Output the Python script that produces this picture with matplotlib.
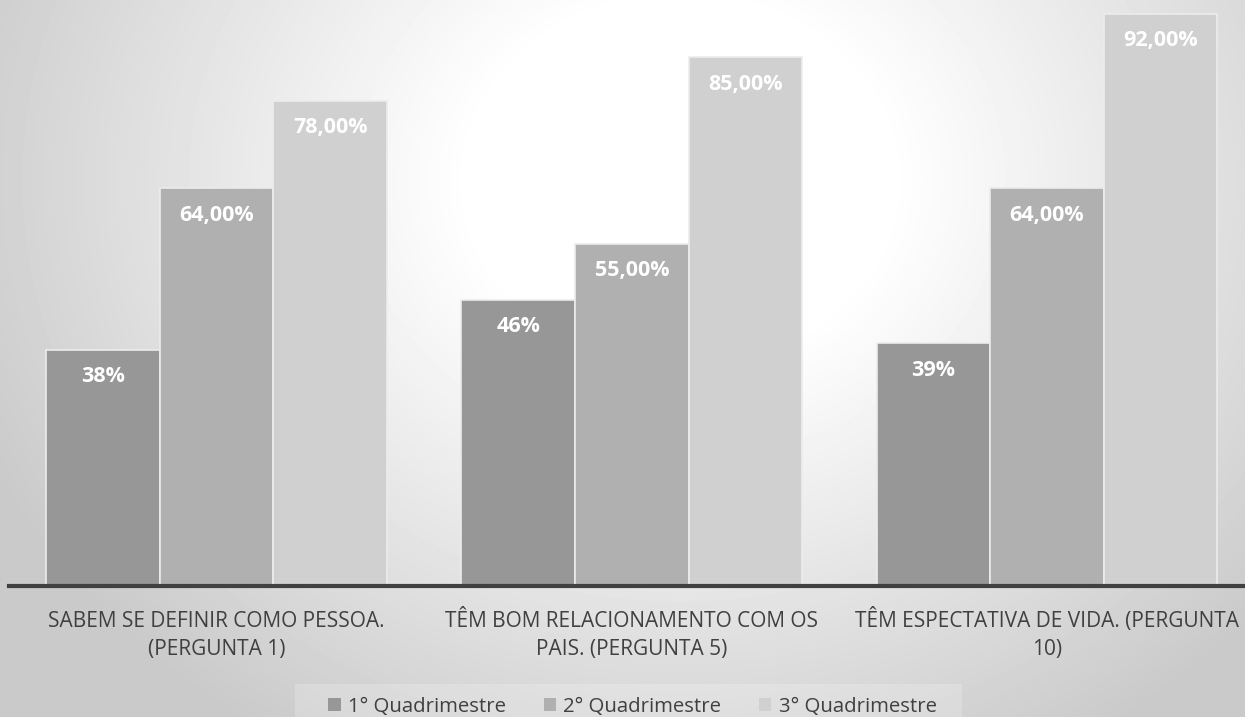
import numpy as np
import matplotlib.pyplot as plt
import matplotlib.transforms as mtransforms
from matplotlib.patches import Patch, Rectangle

categories = ["SABEM SE DEFINIR COMO PESSOA.\n(PERGUNTA 1)",
              "TÊM BOM RELACIONAMENTO COM OS\nPAIS. (PERGUNTA 5)",
              "TÊM ESPECTATIVA DE VIDA. (PERGUNTA\n10)"]
series = ["1° Quadrimestre", "2° Quadrimestre", "3° Quadrimestre"]
q1 = [38, 46, 39]
q2 = [64, 55, 64]
q3 = [78, 85, 92]
q1_labels = ["38%", "46%", "39%"]
q2_labels = ["64,00%", "55,00%", "64,00%"]
q3_labels = ["78,00%", "85,00%", "92,00%"]

colors = ["#979797", "#b0b0b0", "#d0d0d0"]
font = "Open Sans"
W, H = 1245.0, 717.0

fig = plt.figure(figsize=(12.45, 7.17), dpi=100)

# radial-ish gradient background
bg = fig.add_axes([0, 0, 1, 1], zorder=0)
yy, xx = np.mgrid[0:717, 0:1245]
r = np.sqrt(((xx - 680) / 700.0) ** 2 + ((yy - 180) / 600.0) ** 2)
v = 1.0 - 0.21 * np.clip((r - 0.3) / 0.8, 0, 1)
bg.imshow(v, cmap="gray", vmin=0, vmax=1, aspect="auto", extent=[0, 1, 0, 1])
bg.set_xlim(0, 1)
bg.set_ylim(0, 1)
# faint legend band
bg.add_patch(Rectangle((295 / W, 0), (962 - 295) / W, 33 / H,
                       facecolor="white", alpha=0.2, edgecolor="none"))
bg.axis("off")

ax = fig.add_axes([9 / W, 131 / H, 1 - 9 / W, 586 / H], zorder=1)
ax.patch.set_alpha(0)

x = np.arange(len(categories))
w = 0.2735
for i, (vals, labs) in enumerate([(q1, q1_labels), (q2, q2_labels), (q3, q3_labels)]):
    pos = x + (i - 1) * w
    ax.bar(pos, vals, w, color=colors[i], edgecolor="#ececec", linewidth=1.2,
           label=series[i], zorder=2)
    for px, val, lab in zip(pos, vals, labs):
        ax.annotate(lab, (px, val), xytext=(0, -19.5), textcoords="offset points",
                    ha="center", va="center", color="white", fontsize=15.5,
                    fontweight="bold", family=font, zorder=3)

ax.set_xlim(-0.5, 2.5 - 9.5 / 415)
ax.set_ylim(0, 586 / 6.22)
ax.set_yticks([])
ax.set_xticks([])
for s in ["top", "right", "left"]:
    ax.spines[s].set_visible(False)
ax.spines["bottom"].set_color("#404040")
ax.spines["bottom"].set_linewidth(3)
ax.spines["bottom"].set_zorder(4)

# category labels, one text per line at fixed baselines
trans = mtransforms.blended_transform_factory(ax.transData, fig.transFigure)
baselines = [627, 655]
for xi, cat in zip(x, categories):
    for line, b in zip(cat.split("\n"), baselines):
        ax.text(xi, (H - b) / H, line, transform=trans, ha="center",
                va="baseline", fontsize=15, color="#404040", family=font,
                clip_on=False)

handles = [Patch(facecolor=c, edgecolor="none") for c in colors]
leg = fig.legend(handles, series, loc="center", bbox_to_anchor=(632.5 / W, 10 / H),
                 ncol=3, frameon=False, handlelength=0.6,
                 handleheight=0.6, handletextpad=0.35, columnspacing=1.86,
                 borderpad=0.0, prop={"family": font, "size": 14.7})
for t in leg.get_texts():
    t.set_color("#404040")

fig.savefig("out.png", dpi=100)
